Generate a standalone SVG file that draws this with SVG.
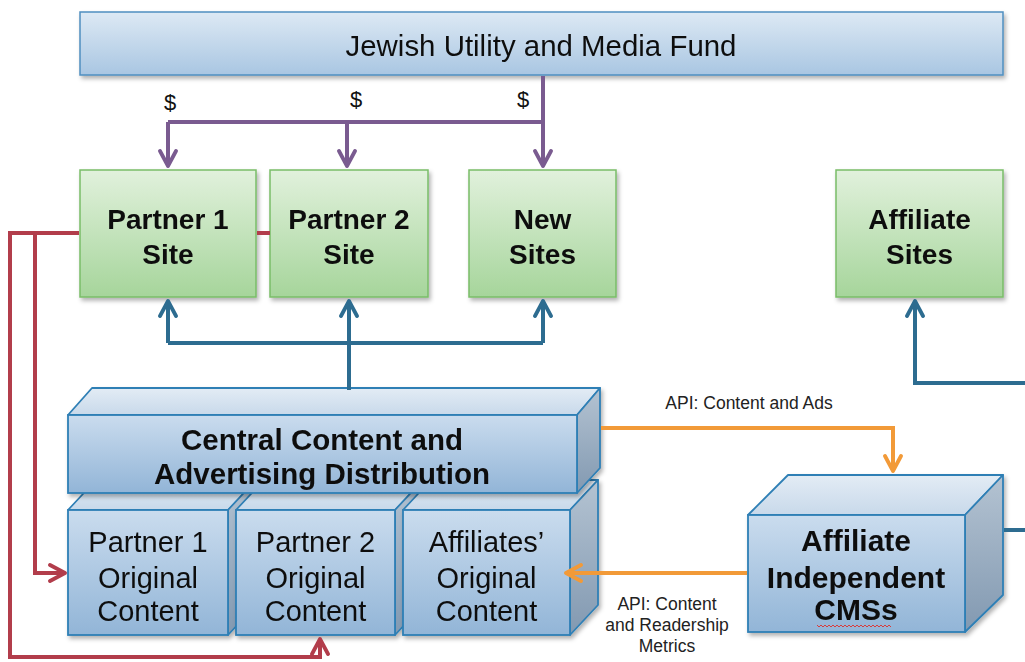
<svg xmlns="http://www.w3.org/2000/svg" width="1025" height="662" viewBox="0 0 1025 662">
  <defs>
    <linearGradient id="barGrad" x1="0" y1="0" x2="0" y2="1">
      <stop offset="0" stop-color="#dde9f4"/>
      <stop offset="1" stop-color="#a9c6e2"/>
    </linearGradient>
    <linearGradient id="greenGrad" x1="0" y1="0" x2="0" y2="1">
      <stop offset="0" stop-color="#e1f1dc"/>
      <stop offset="1" stop-color="#a6d59b"/>
    </linearGradient>
    <linearGradient id="frontGrad" x1="0" y1="0" x2="0" y2="1">
      <stop offset="0" stop-color="#cadcee"/>
      <stop offset="1" stop-color="#92b5d7"/>
    </linearGradient>
    <linearGradient id="topGrad" x1="0" y1="0" x2="0" y2="1">
      <stop offset="0" stop-color="#e3ecf5"/>
      <stop offset="1" stop-color="#c8d9ea"/>
    </linearGradient>
    <linearGradient id="sideGrad" x1="0" y1="0" x2="0" y2="1">
      <stop offset="0" stop-color="#b4c3d2"/>
      <stop offset="1" stop-color="#8299b1"/>
    </linearGradient>
    <filter id="shadow" x="-5%" y="-5%" width="115%" height="120%">
      <feDropShadow dx="2" dy="3" stdDeviation="2" flood-color="#000" flood-opacity="0.3"/>
    </filter>
    <marker id="arrPurple" viewBox="0 0 10 10" refX="9" refY="5" markerWidth="5" markerHeight="5" orient="auto">
      <path d="M1.5,1 L9,5 L1.5,9" fill="none" stroke="#7a5b90" stroke-width="1.9" stroke-linecap="round" stroke-linejoin="round"/>
    </marker>
    <marker id="arrBlue" viewBox="0 0 10 10" refX="9" refY="5" markerWidth="5" markerHeight="5" orient="auto">
      <path d="M1.5,1 L9,5 L1.5,9" fill="none" stroke="#2d6c90" stroke-width="1.9" stroke-linecap="round" stroke-linejoin="round"/>
    </marker>
    <marker id="arrRed" viewBox="0 0 10 10" refX="9" refY="5" markerWidth="5" markerHeight="5" orient="auto">
      <path d="M1.5,1 L9,5 L1.5,9" fill="none" stroke="#b23d4b" stroke-width="1.9" stroke-linecap="round" stroke-linejoin="round"/>
    </marker>
    <marker id="arrOrange" viewBox="0 0 10 10" refX="9" refY="5" markerWidth="5" markerHeight="5" orient="auto">
      <path d="M1.5,1 L9,5 L1.5,9" fill="none" stroke="#f29a38" stroke-width="1.9" stroke-linecap="round" stroke-linejoin="round"/>
    </marker>
  </defs>
  <style>
    .bar { fill: url(#barGrad); stroke: #4f8fc0; stroke-width: 1.5; }
    .site { fill: url(#greenGrad); stroke: #79bd68; stroke-width: 1.5; }
    .front { fill: url(#frontGrad); stroke: #2f7fb5; stroke-width: 1.8; }
    .top { fill: url(#topGrad); stroke: #2f7fb5; stroke-width: 1.8; stroke-linejoin: round; }
    .side { fill: url(#sideGrad); stroke: #2f7fb5; stroke-width: 1.8; stroke-linejoin: round; }
    text { font-family: "Liberation Sans", Arial, sans-serif; fill: #111; text-anchor: middle; }
    .reg { font-size: 29px; }
    .bold { font-size: 28px; font-weight: bold; }
    .big { font-size: 29.5px; font-weight: bold; }
    .cms { font-size: 30px; font-weight: bold; }
    .small { font-size: 17.5px; fill: #222; }
    .dollar { font-size: 22px; }
    .link { fill: none; stroke-width: 4; stroke-linejoin: miter; }
    .purple { stroke: #7a5b90; }
    .blue { stroke: #2d6c90; }
    .red { stroke: #b23d4b; }
    .orange { stroke: #f29a38; }
  </style>

  <rect width="1025" height="662" fill="#ffffff"/>

  <!-- fund -->
  <g id="fund" filter="url(#shadow)">
    <rect class="bar" x="80" y="12" width="923" height="63"/>
    <text x="541" y="56" style="font-size:29px" textLength="391" lengthAdjust="spacingAndGlyphs">Jewish Utility and Media Fund</text>
  </g>

  <g id="dollar-labels">
    <text class="dollar" x="170" y="110">$</text>
    <text class="dollar" x="356" y="107">$</text>
    <text class="dollar" x="523" y="107">$</text>
  </g>

  <!-- sites -->
  <g id="partner1-site" filter="url(#shadow)">
    <rect class="site" x="80" y="170" width="176" height="127"/>
    <text class="bold" x="168" y="229">Partner 1</text>
    <text class="bold" x="168" y="264">Site</text>
  </g>
  <g id="partner2-site" filter="url(#shadow)">
    <rect class="site" x="270" y="170" width="158" height="127"/>
    <text class="bold" x="349" y="229">Partner 2</text>
    <text class="bold" x="349" y="264">Site</text>
  </g>
  <g id="new-sites" filter="url(#shadow)">
    <rect class="site" x="469" y="170" width="147" height="127"/>
    <text class="bold" x="542.5" y="229">New</text>
    <text class="bold" x="542.5" y="264">Sites</text>
  </g>
  <g id="affiliate-sites" filter="url(#shadow)">
    <rect class="site" x="836" y="170" width="167" height="127"/>
    <text class="bold" x="919.5" y="229">Affiliate</text>
    <text class="bold" x="919.5" y="264">Sites</text>
  </g>

  <!-- original content blocks -->
  <g id="partner1-content" filter="url(#shadow)">
    <polygon class="top" points="68,510 96,480 256,480 228,510"/>
    <polygon class="side" points="228,510 256,480 256,605 228,635"/>
    <rect class="front" x="68" y="510" width="160" height="125"/>
    <text class="reg" x="148" y="552">Partner 1</text>
    <text class="reg" x="148" y="588">Original</text>
    <text class="reg" x="148" y="621">Content</text>
  </g>
  <g id="partner2-content" filter="url(#shadow)">
    <polygon class="top" points="236,510 264,480 423,480 395,510"/>
    <polygon class="side" points="395,510 423,480 423,605 395,635"/>
    <rect class="front" x="236" y="510" width="159" height="125"/>
    <text class="reg" x="315.5" y="552">Partner 2</text>
    <text class="reg" x="315.5" y="588">Original</text>
    <text class="reg" x="315.5" y="621">Content</text>
  </g>
  <g id="affiliates-content" filter="url(#shadow)">
    <polygon class="top" points="403,510 431,480 598,480 570,510"/>
    <polygon class="side" points="570,510 598,480 598,605 570,635"/>
    <rect class="front" x="403" y="510" width="167" height="125"/>
    <text class="reg" x="486.5" y="552">Affiliates’</text>
    <text class="reg" x="486.5" y="588">Original</text>
    <text class="reg" x="486.5" y="621">Content</text>
  </g>

  <!-- central distribution -->
  <g id="central" filter="url(#shadow)">
    <polygon class="top" points="68,415 92,388 600,388 577,415"/>
    <polygon class="side" points="577,415 600,388 600,468 577,493"/>
    <rect class="front" x="68" y="415" width="509" height="78"/>
    <text class="big" x="322" y="450">Central Content and</text>
    <text class="big" x="322" y="484">Advertising Distribution</text>
  </g>

  <!-- affiliate CMSs -->
  <g id="affiliate-cms" filter="url(#shadow)">
    <polygon class="top" points="748,515 788,475 1003,475 965,515"/>
    <polygon class="side" points="965,515 1003,475 1003,595 965,632"/>
    <rect class="front" x="748" y="515" width="217" height="117"/>
    <text class="cms" x="856" y="551">Affiliate</text>
    <text class="cms" x="856" y="588">Independent</text>
    <text class="cms" x="856" y="620">CMSs</text>
    <path d="M817,625 l2,2 l2,-2 l2,2 l2,-2 l2,2 l2,-2 l2,2 l2,-2 l2,2 l2,-2 l2,2 l2,-2 l2,2 l2,-2 l2,2 l2,-2 l2,2 l2,-2 l2,2 l2,-2 l2,2 l2,-2 l2,2 l2,-2 l2,2 l2,-2 l2,2 l2,-2 l2,2 l2,-2 l2,2 l2,-2 l2,2 l2,-2 l2,2 l2,-2 l2,2" fill="none" stroke="#d93a3a" stroke-width="1"/>
  </g>

  <!-- connectors -->
  <g id="connectors">
    <!-- funding -->
    <path class="link purple" d="M543,76 V122 H168" />
    <path class="link purple" d="M168,122 V166" marker-end="url(#arrPurple)"/>
    <path class="link purple" d="M347,122 V166" marker-end="url(#arrPurple)"/>
    <path class="link purple" d="M543,122 V166" marker-end="url(#arrPurple)"/>
    <!-- central distribution to sites -->
    <path class="link blue" d="M349,390 V343 H168" />
    <path class="link blue" d="M349,343 H543" />
    <path class="link blue" d="M168,343 V301" marker-end="url(#arrBlue)"/>
    <path class="link blue" d="M349,343 V301" marker-end="url(#arrBlue)"/>
    <path class="link blue" d="M543,343 V301" marker-end="url(#arrBlue)"/>
    <!-- affiliate CMS to affiliate sites -->
    <path class="link blue" d="M1025,383 H915 V301" marker-end="url(#arrBlue)"/>
    <path class="link blue" d="M1004,530 H1025" />
    <!-- partner sites feeding original content (passing behind Partner 1 Site) -->
    <path class="link red" d="M270,233 H257" />
    <path class="link red" d="M79,233 H10 V657 H320 V639" marker-end="url(#arrRed)"/>
    <path class="link red" d="M79,233 H35 V573 H65" marker-end="url(#arrRed)"/>
    <!-- APIs -->
    <path class="link orange" d="M601,428 H893 V471" marker-end="url(#arrOrange)"/>
    <path class="link orange" d="M747,573 H566" marker-end="url(#arrOrange)"/>
  </g>

  <!-- API labels -->
  <g id="api-labels">
    <text class="small" x="749" y="409">API: Content and Ads</text>
    <text class="small" x="667" y="610">API: Content</text>
    <text class="small" x="667" y="631">and Readership</text>
    <text class="small" x="667" y="652">Metrics</text>
  </g>
</svg>
